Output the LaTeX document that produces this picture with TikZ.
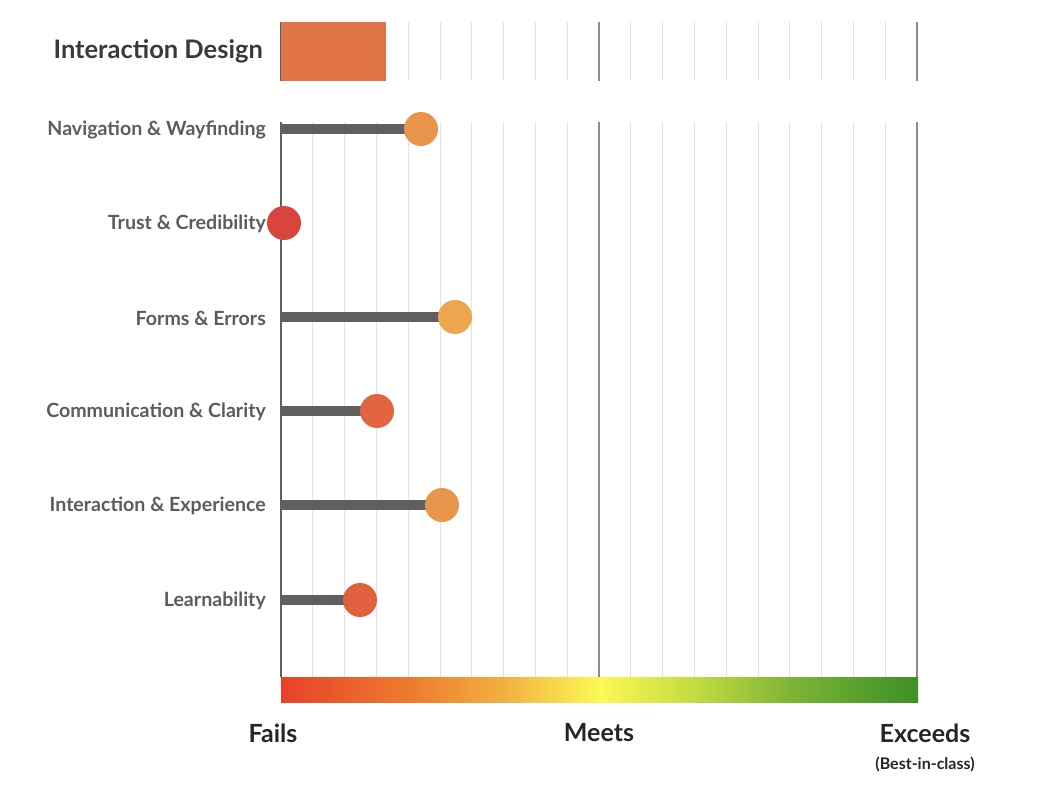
\documentclass[tikz,border=0pt]{standalone}
\usepackage{fontspec}
\setmainfont{Lato}
\usetikzlibrary{positioning}

\definecolor{labelgray}{HTML}{585D5D}
\definecolor{titlegray}{HTML}{353A3A}
\definecolor{scaleblack}{HTML}{232626}
\definecolor{gridlight}{HTML}{E2E2E2}
\definecolor{gridmajor}{HTML}{8C8C8C}
\definecolor{stemgray}{HTML}{5F5F5F}
\definecolor{blockorange}{HTML}{E07548}
\definecolor{sc1}{HTML}{E8412A}
\definecolor{sc2}{HTML}{EE7A2E}
\definecolor{sc3}{HTML}{F2B040}
\definecolor{sc4}{HTML}{FCF955}
\definecolor{sc5}{HTML}{C2DB40}
\definecolor{sc6}{HTML}{7DB535}
\definecolor{sc7}{HTML}{3C8F26}

\pgfdeclarehorizontalshading{scoreshade}{100bp}{color(0bp)=(sc1); color(25bp)=(sc1); color(35bp)=(sc2); color(42.5bp)=(sc3); color(50bp)=(sc4); color(57.5bp)=(sc5); color(65bp)=(sc6); color(75bp)=(sc7); color(100bp)=(sc7)}

\tikzset{
  rowlabel/.style={anchor=east, inner sep=0pt, text=labelgray, font=\fontsize{19.6}{22}\selectfont\bfseries},
  scalelabel/.style={inner sep=0pt, text=scaleblack, font=\fontsize{25}{28}\selectfont\bfseries},
  stem/.style={line width=10pt, stemgray},
  dot/.style={radius=17pt}
}

\begin{document}
\begin{tikzpicture}[x=1pt, y=-1pt]
        \useasboundingbox (0,0) rectangle (1040,792);

        % grid
        \foreach \k in {1,...,19} {
            \draw[gridlight, line width=1pt] (281+31.8*\k,22) -- (281+31.8*\k,81);
            \draw[gridlight, line width=1pt] (281+31.8*\k,122) -- (281+31.8*\k,677);
        }
        \foreach \xx in {599,917} {
            \draw[gridmajor, line width=1.5pt] (\xx,22) -- (\xx,81);
            \draw[gridmajor, line width=1.5pt] (\xx,122) -- (\xx,677);
        }
        \draw[stemgray, line width=1.5pt] (281,22) -- (281,81);
        \draw[stemgray, line width=1.5pt] (281,122) -- (281,677);

        % overall score
        \fill[blockorange] (281,22) rectangle (386,81);
        \node[anchor=east, inner sep=0pt, text=titlegray, font=\fontsize{25.5}{30}\selectfont\bfseries] (title) at (263,51) {Interaction Design};

        % rows
        \foreach \yy/\xx/\col/\name/\txt in {
            129/421/E8944B/nav/{Navigation \& Wayfinding},
            223/284/D9443C/trust/{Trust \& Credibility},
            317/455/EDA550/forms/{Forms \& Errors},
            411/377/E06540/comm/{Communication \& Clarity},
            505/442/E8964B/inter/{Interaction \& Experience},
            600/360/E05F3F/learn/{Learnability}} {
            \definecolor{dotcol}{HTML}{\col}
            \draw[stem] (281,\yy) -- (\xx,\yy);
            \fill[dotcol] (\xx,\yy) circle [dot];
            \node[rowlabel] (\name) at (266,\yy+1) {\txt};
        }

        % scale
        \shade[shading=scoreshade] (281,677) rectangle (918,702);
        \node[scalelabel] (fails) at (273,733) {Fails};
        \node[scalelabel] (meets) at (599,733) {Meets};
        \node[scalelabel] (exceeds) at (925,733) {Exceeds};
        \node[inner sep=0pt, text=scaleblack, font=\fontsize{16}{18}\selectfont\bfseries] (best) at (925,764) {(Best-in-class)};

    \end{tikzpicture}
\end{document}
